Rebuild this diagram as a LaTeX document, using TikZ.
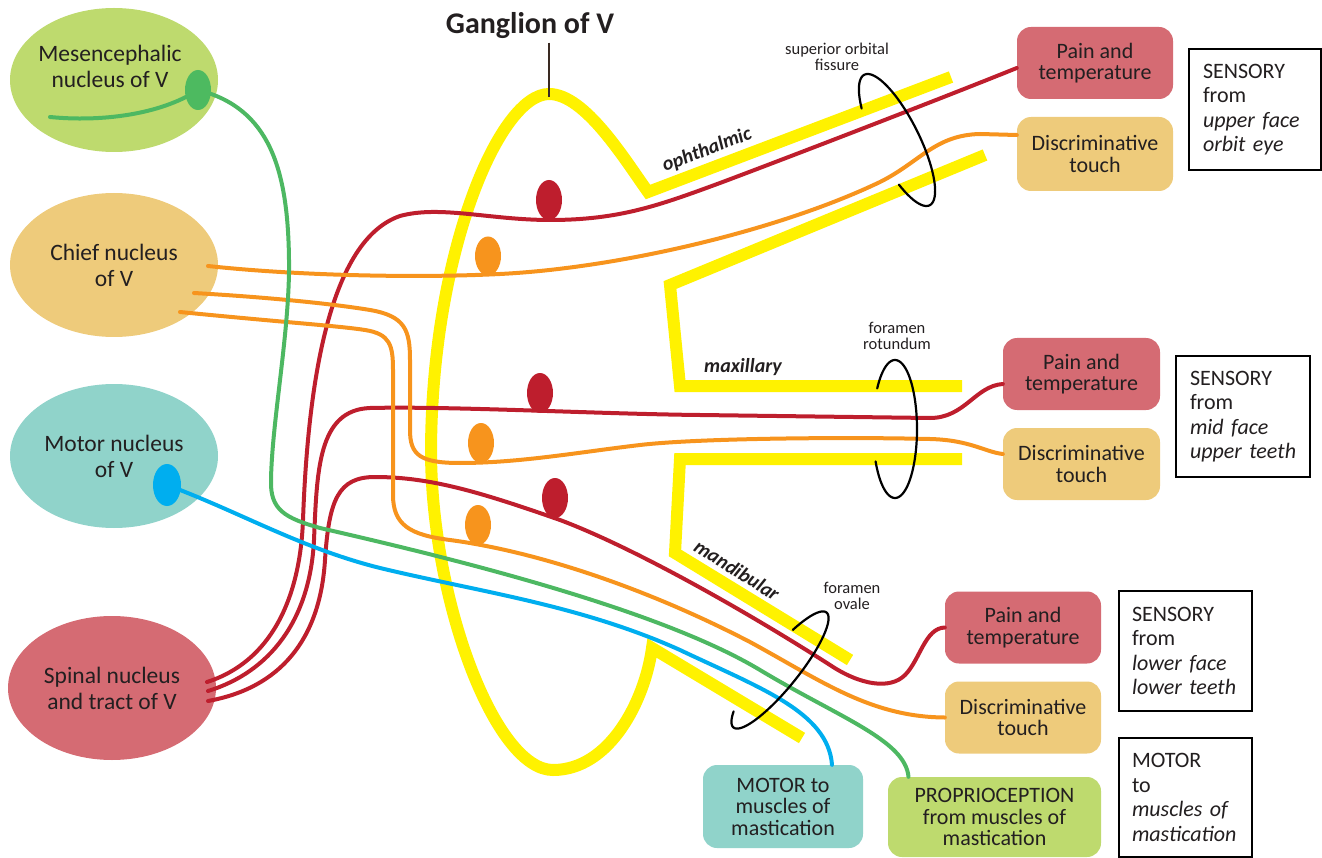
\documentclass[tikz,border=0pt]{standalone}
\usepackage{fontspec}
\setmainfont{Carlito}
\usetikzlibrary{shapes.geometric}
\definecolor{mesoF}{HTML}{BEDA6E}
\definecolor{chiefF}{HTML}{EECB7B}
\definecolor{motorF}{HTML}{90D3CA}
\definecolor{spinalF}{HTML}{D56B73}
\definecolor{fred}{HTML}{BE1E2D}
\definecolor{forange}{HTML}{F7941D}
\definecolor{fgreen}{HTML}{4DB862}
\definecolor{fblue}{HTML}{00AEEF}
\definecolor{yel}{HTML}{FFF200}
\definecolor{txt}{HTML}{231F20}
\definecolor{gsomaC}{HTML}{4DBA60}
\definecolor{tickC}{HTML}{3A2A22}
\begin{document}
\begin{tikzpicture}[x=1pt,y=-1pt,
  every node/.style={text=txt},
  nucleus/.style={ellipse, minimum width=208pt, minimum height=144pt, inner sep=0pt, align=center, font=\fontsize{23.5}{26}\selectfont},
  nutext/.style={align=center, inner sep=0pt, font=\fontsize{23.5}{26}\selectfont},
  box/.style={rounded corners=14pt, minimum width=156pt, minimum height=72pt, inner sep=0pt, align=center, font=\fontsize{22}{21.5}\selectfont},
  note/.style={draw=black, line width=1.8pt, fill=white, align=left, inner xsep=14pt, inner ysep=0pt, font=\fontsize{22}{24.5}\selectfont},
  soma/.style={ellipse, minimum width=26pt, minimum height=40pt, inner sep=0pt},
  fiber/.style={line width=4pt, line cap=round, line join=round},
  yelbar/.style={draw=yel, line width=12pt, line join=miter, miter limit=20},
  loopline/.style={draw=black, line width=2.2pt, line cap=round},
  small/.style={align=center, inner sep=0pt, font=\fontsize{16.5}{16.5}\selectfont},
  branch/.style={inner sep=0pt, font=\bfseries\itshape\fontsize{20}{20}\selectfont},
  tickline/.style={draw=tickC, line width=1.6pt}
]
\useasboundingbox (0,0) rectangle (1322,858);

% ---------- nuclei ----------
\node[nucleus, fill=mesoF] (meso) at (114,80) {};
\node[nutext] (mesotext) at (110,66.5) {Mesencephalic\\nucleus of V};
\node[nucleus, fill=chiefF] (chief) at (114,265) {Chief nucleus\\of V};
\node[nucleus, fill=motorF] (motor) at (114,456) {Motor nucleus\\of V};
\node[nucleus, fill=spinalF] (spinal) at (112,688) {Spinal nucleus\\and tract of V};

% ---------- target boxes ----------
\node[box, fill=spinalF] (pain1) at (1095,63) {Pain and\\temperature};
\node[box, fill=chiefF, minimum height=74pt] (disc1) at (1095,154) {Discriminative\\touch};
\node[box, fill=spinalF, minimum width=157pt] (pain2) at (1081.5,374) {Pain and\\temperature};
\node[box, fill=chiefF, minimum width=157pt] (disc2) at (1081.5,464) {Discriminative\\touch};
\node[box, fill=spinalF] (pain3) at (1023,627.5) {Pain and\\temperature};
\node[box, fill=chiefF] (disc3) at (1023,717.5) {Discriminative\\touch};
\node[box, fill=motorF, minimum width=160pt, minimum height=83pt] (motorbox) at (783,806.5) {MOTOR to\\muscles of\\mastication};
\node[box, fill=mesoF, minimum width=213pt, minimum height=80pt] (prop) at (994.5,817) {PROPRIOCEPTION\\from muscles of\\mastication};

% ---------- white notes ----------
\node[note, text width=104pt, minimum height=121pt] (s1) at (1255,109.5) {SENSORY\\from\\\textit{upper~face}\\\textit{orbit~eye}};
\node[note, text width=106pt, minimum height=121pt] (s2) at (1243,416.5) {SENSORY\\from\\\textit{mid~face}\\\textit{upper~teeth}};
\node[note, text width=107pt, inner xsep=13pt, minimum height=120pt] (s3) at (1185.5,651) {SENSORY\\from\\\textit{lower~face}\\\textit{lower~teeth}};
\node[note, text width=107pt, inner xsep=13pt, minimum height=119pt] (m4) at (1185.5,797.5) {MOTOR\\to\\\textit{muscles~of}\\\textit{mastication}};

% ---------- ganglion and branches (yellow) ----------
\draw[yelbar] (951,77) -- (648,192)
  .. controls (625,160) and (585,94) .. (549,94)
  .. controls (500,94) and (432,250) .. (431,450)
  .. controls (431,600) and (495,770) .. (553,770)
  .. controls (610,770) and (645,700) .. (652,648) -- (802,738);
\draw[yelbar] (985,155) -- (670,285) -- (680,386) -- (962,386);
\draw[yelbar] (962,459) -- (680,459) -- (675,553) -- (850,660);

% ---------- fibre end points ----------
\coordinate (gs) at (198,90);
\coordinate (bs) at (167,485);
\coordinate (mesoin) at (50,117);
\coordinate (ch1) at (208,266);
\coordinate (ch2) at (194,293);
\coordinate (ch3) at (180,312);
\coordinate (sp1) at (207,682);
\coordinate (sp2) at (208,691);
\coordinate (sp3) at (208,701);

% ---------- fibres ----------
% red (pain and temperature)
\draw[fiber, draw=fred] (sp1) .. controls (270,662) and (300,600) .. (303,520)
  .. controls (308,380) and (330,240) .. (400,216)
  .. controls (440,205) and (490,220) .. (550,220)
  .. controls (620,220) and (660,205) .. (720,183)
  .. controls (800,153) and (950,95) .. ([yshift=-5pt]pain1.west);
\draw[fiber, draw=fred] (sp2) .. controls (270,672) and (310,620) .. (314,540)
  .. controls (317,470) and (318,410) .. (370,408)
  .. controls (450,406) and (600,414) .. (700,415)
  -- (930,418)
  .. controls (965,418) and (975,386) .. ([yshift=-10pt]pain2.west);
\draw[fiber, draw=fred] (sp3) .. controls (280,688) and (320,640) .. (325,560)
  .. controls (329,500) and (338,477) .. (375,477)
  .. controls (430,477) and (480,492) .. (560,520)
  .. controls (640,550) and (760,620) .. (830,665)
  .. controls (860,685) and (890,690) .. (905,675)
  .. controls (920,660) and (925,628) .. (pain3.west);
% orange (discriminative touch)
\draw[fiber, draw=forange] (ch1) .. controls (300,276) and (420,278) .. (500,274)
  .. controls (620,268) and (780,230) .. (880,182)
  .. controls (920,162) and (935,135) .. (980,134)
  -- ([yshift=19pt]disc1.west);
\draw[fiber, draw=forange] (ch2) .. controls (280,298) and (340,305) .. (370,310)
  .. controls (405,316) and (410,330) .. (410,360)
  -- (410,430)
  .. controls (410,455) and (420,463) .. (460,463)
  .. controls (520,463) and (580,452) .. (640,445)
  .. controls (700,438) and (850,437) .. (930,439)
  .. controls (970,440) and (985,452) .. ([yshift=10pt]disc2.west);
\draw[fiber, draw=forange] (ch3) .. controls (280,322) and (340,326) .. (365,330)
  .. controls (390,334) and (393,345) .. (393,370)
  -- (393,495)
  .. controls (393,525) and (410,535) .. (450,540)
  .. controls (540,552) and (650,590) .. (750,642)
  .. controls (820,680) and (870,717) .. (disc3.west);
% green (proprioception)
\draw[fiber, draw=fgreen] (mesoin) .. controls (100,122) and (160,115) .. (gs);
\draw[fiber, draw=fgreen] (gs) .. controls (270,108) and (288,170) .. (289,260)
  .. controls (290,330) and (272,420) .. (271,480)
  .. controls (270,510) and (285,518) .. (320,528)
  .. controls (460,560) and (660,610) .. (760,670)
  .. controls (840,718) and (905,740) .. ([xshift=-86pt]prop.north);
% blue (motor)
\draw[fiber, draw=fblue] (bs) .. controls (240,512) and (300,548) .. (380,568)
  .. controls (480,592) and (580,605) .. (680,650)
  .. controls (760,688) and (828,712) .. ([xshift=49pt]motorbox.north);

% ---------- cell bodies ----------
\node[soma, fill=gsomaC] (gsoma) at (gs) {};
\node[soma, fill=fblue, minimum width=28pt, minimum height=42pt] (bsoma) at (bs) {};
\node[soma, fill=fred] (rs1) at (549,200) {};
\node[soma, fill=forange, minimum height=39pt] (os1) at (488,256) {};
\node[soma, fill=fred] (rs2) at (540,393) {};
\node[soma, fill=forange] (os2) at (481,443) {};
\node[soma, fill=fred] (rs3) at (555,498) {};
\node[soma, fill=forange] (os3) at (478,525) {};

% ---------- foramina loops ----------
\draw[loopline] plot[domain=127:416, samples=90]
  ({897+73*cos(\x)*0.447-22*sin(\x)*0.894},{140+73*cos(\x)*0.894+22*sin(\x)*0.447});
\draw[loopline] plot[domain=216:512, samples=90]
  ({895+22*cos(\x)},{429+69*sin(\x)});
\draw[loopline] plot[domain=-58:214, samples=90]
  ({780+46.5*cos(\x)+14*sin(\x)},{670-57.5*cos(\x)+11.3*sin(\x)});

% ---------- labels ----------
\node[font=\bfseries\fontsize{30}{30}\selectfont] (ganglabel) at (530,26) {Ganglion of V};
\coordinate (archtop) at (549,97);
\draw[tickline] (ganglabel.south -| archtop) -- (archtop);
\node[branch, rotate=21] (ophlab) at (707,150) {ophthalmic};
\node[branch] (maxlab) at (743,367) {maxillary};
\node[branch, rotate=-32] (mandlab) at (737,570) {mandibular};
\node[small] (sof) at (837,57) {superior orbital\\fissure};
\node[small] (frot) at (897,336) {foramen\\rotundum};
\node[small] (fov) at (852,596) {foramen\\ovale};
\end{tikzpicture}
\end{document}
